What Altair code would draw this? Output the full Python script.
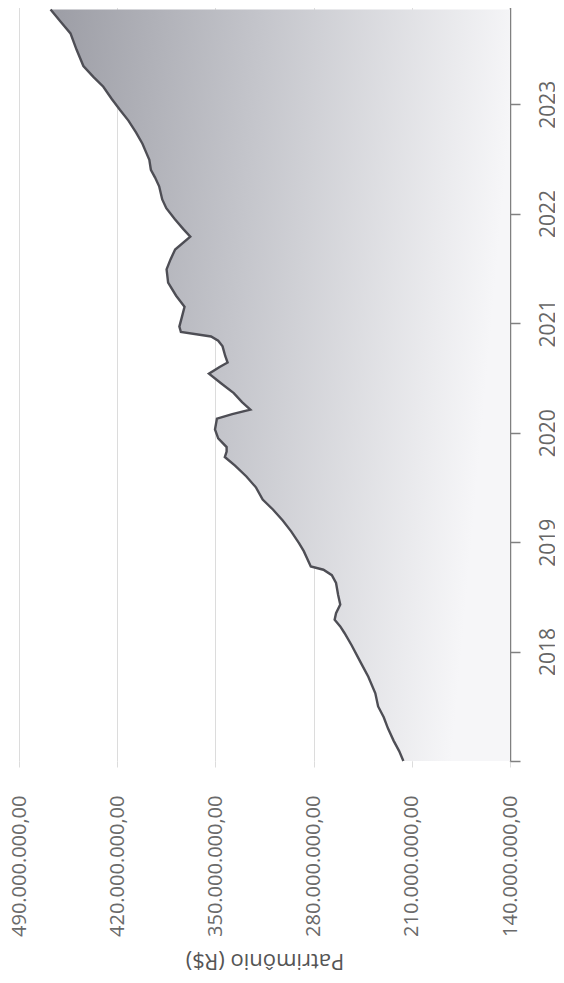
import altair as alt
import pandas as pd

# Patrimônio (em milhões de R$) ao longo do tempo
dates = [
    "2017/01/01", "2017/02/03", "2017/03/10", "2017/04/20", "2017/05/27", "2017/07/02",
    "2017/08/15", "2017/10/09", "2017/11/22", "2018/01/23", "2018/03/04", "2018/03/26",
    "2018/04/17", "2018/05/09", "2018/06/07", "2018/07/09", "2018/08/18", "2018/09/13",
    "2018/10/01", "2018/10/12", "2018/12/02", "2018/12/28", "2019/02/06", "2019/03/14",
    "2019/04/20", "2019/05/23", "2019/07/02", "2019/08/08", "2019/09/13", "2019/10/12",
    "2019/10/30", "2019/11/14", "2019/12/13", "2020/01/12", "2020/02/17", "2020/03/03",
    "2020/03/18", "2020/04/12", "2020/05/12", "2020/06/14", "2020/07/16", "2020/08/07",
    "2020/08/22", "2020/09/13", "2020/10/15", "2020/11/03", "2020/11/17", "2020/12/02",
    "2020/12/20", "2021/01/19", "2021/02/24", "2021/04/02", "2021/05/16", "2021/06/29",
    "2021/08/01", "2021/09/03", "2021/10/16", "2021/11/11", "2021/12/14", "2022/01/19",
    "2022/02/17", "2022/04/02", "2022/05/01", "2022/05/27", "2022/06/29", "2022/07/20",
    "2022/08/22", "2022/09/28", "2022/11/07", "2022/12/13", "2023/01/19", "2023/02/28",
    "2023/04/02", "2023/05/08", "2023/07/02", "2023/08/25", "2023/10/01", "2023/11/13",
]
values = [
    216, 219, 223, 227, 230, 234,
    236, 241, 246, 253, 258, 261,
    265, 264, 261, 262.5, 264, 267,
    273, 282, 287, 290.3, 296, 302,
    309, 316.3, 321, 327.9, 336, 343.3,
    342, 342, 348, 350.3, 348.9, 338,
    325.1, 331, 336.9, 346, 354.6, 347,
    341.3, 343, 344.9, 348, 353.1, 374.6,
    375.7, 374, 372, 378, 383.7, 384.8,
    382, 378.7, 367.9, 373, 379, 385,
    387.9, 390.1, 393, 396, 397.1, 399,
    402, 406.5, 412, 418.1, 424, 429.9,
    437, 444.1, 449, 453.3, 460, 467.5,
]
value_ticks = [140, 210, 280, 350, 420, 490]
year_ticks = [2017, 2018, 2019, 2020, 2021, 2022, 2023]

df = pd.DataFrame({"date": dates, "valor": values})

font = "Open Sans"

x_enc = alt.X(
    "valor:Q",
    scale=alt.Scale(domain=[140, 490], reverse=True, nice=False, zero=False),
    axis=alt.Axis(
        orient="bottom",
        values=value_ticks,
        labelExpr="replace(format(datum.value * 1000000, ','), regexp(',', 'g'), '.') + ',00'",
        labelAngle=-90,
        labelFontSize=20,
        labelColor="#6a6a6a",
        labelFont=font,
        labelPadding=28,
        grid=True,
        gridColor="#dcdcdc",
        gridWidth=1,
        domain=False,
        ticks=True,
        tickColor="#dcdcdc",
        tickSize=6,
        title="Patrimônio (R$)",
        titleAngle=180,
        titleBaseline="bottom",
        titleFontSize=22,
        titleFontWeight="normal",
        titleColor="#555555",
        titleFont=font,
        titlePadding=12,
    ),
)

y_enc = alt.Y(
    "date:T",
    scale=alt.Scale(domain=[alt.DateTime(year=2017, month=1, date=1),
                            alt.DateTime(year=2023, month=12, date=1)]),
    axis=alt.Axis(
        orient="right",
        values=[alt.DateTime(year=y, month=1, date=1) for y in year_ticks],
        labelExpr="year(datum.value) == 2017 ? '' : timeFormat(datum.value, '%Y')",
        labelAngle=-90,
        labelAlign="center",
        labelBaseline="top",
        labelFontSize=21,
        labelColor="#666666",
        labelFont=font,
        labelPadding=17,
        grid=False,
        domain=True,
        domainColor="#808080",
        domainWidth=1.5,
        ticks=True,
        tickColor="#808080",
        tickWidth=1.5,
        tickSize=10,
        title=None,
    ),
)

gradient = alt.Gradient(
    gradient="linear",
    stops=[
        alt.GradientStop(color="#9c9da5", offset=0),
        alt.GradientStop(color="#c4c5cb", offset=0.45),
        alt.GradientStop(color="#f6f6f8", offset=1),
    ],
    x1=0, y1=0, x2=1, y2=0.15,
)

area = alt.Chart(df).mark_area(orient="horizontal", color=gradient).encode(
    x=x_enc,
    x2=alt.datum(140),
    y=y_enc,
)

line = alt.Chart(df).mark_line(orient="vertical", color="#4e4e55", strokeWidth=2.4).encode(
    x="valor:Q",
    y="date:T",
    order="date:T",
)

chart = (
    alt.layer(area, line)
    .properties(width=491, height=757, padding={"left": 1, "top": -4, "right": -3, "bottom": 4})
    .configure_view(stroke=None)
)

chart.save("out.html", embed_options={"renderer": "svg", "actions": False})
